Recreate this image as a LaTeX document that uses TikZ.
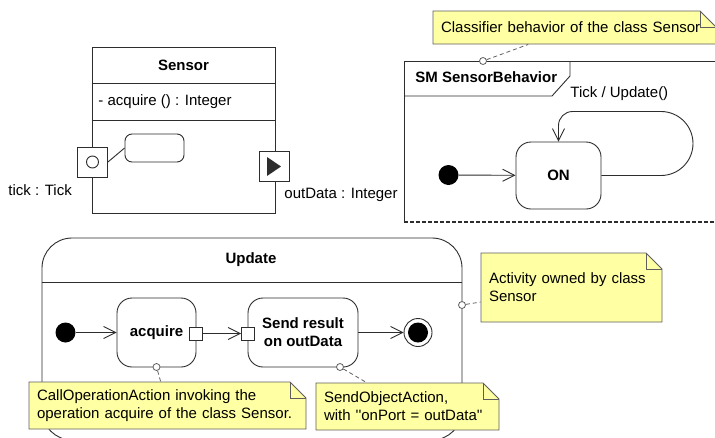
\documentclass[tikz,border=0pt]{standalone}
\usepackage{fontspec}
\setmainfont{Liberation Sans}
\newfontfamily\rawsans{Liberation Sans}
\usetikzlibrary{arrows.meta}
\definecolor{notefill}{RGB}{255,255,163}
\definecolor{ln}{RGB}{45,45,45}
\definecolor{noteln}{RGB}{95,95,95}
\newcommand\umlnote[6]{%
  \pgfmathsetmacro\umlw{#4-#2}%
  \pgfmathsetmacro\umlh{#5-#3}%
  \pgfmathsetmacro\umltw{#4-#2-16}%
  \draw[notepoly] (#2,#3) -- (#4-16,#3) -- (#4,#3+16) -- (#4,#5) -- (#2,#5) -- cycle;
  \draw[notepoly,fill=none] (#4-16,#3) -- (#4-16,#3+16) -- (#4,#3+16);
  \node[notetext, text width=\umltw pt, minimum width=\umlw pt, minimum height=\umlh pt] (#1) at ({(#2+#4)/2},{(#3+#5)/2}) {#6};
}
\begin{document}
\begin{tikzpicture}[x=1pt,y=-1pt, line width=0.9pt,
  every node/.style={font=\fontsize{15}{18}\selectfont, text=black},
  boldtxt/.style={font=\fontsize{15}{18}\selectfont\bfseries},
  box/.style={draw=ln, fill=white, inner sep=0, line width=0.9pt},
  pinbox/.style={box, minimum size=13pt},
  txt/.style={inner sep=0, anchor=base west},
  notepoly/.style={draw=noteln, fill=notefill, line width=0.8pt},
  notetext/.style={inner xsep=8pt, inner ysep=0, align=left},
  noteline/.style={draw=noteln, dash pattern=on 4pt off 3pt, line width=0.8pt},
  anchorc/.style={circle, draw=noteln, fill=white, minimum size=7pt, inner sep=0, line width=0.8pt},
  flow/.style={draw=ln, -{Straight Barb[length=12pt,width=12pt]}},
  initnode/.style={circle, fill=black, minimum size=20pt, inner sep=0}]
\useasboundingbox (0,0) rectangle (715,437);
\fill[white] (0,0) rectangle (715,437);
\clip (0,0) rectangle (715,437);

% ---------- Sensor class ----------
\node[box, minimum width=183pt, minimum height=166pt] (sensor) at (183.5,130) {};
\draw[ln] (sensor.west |- 0,83) -- (sensor.east |- 0,83);
\draw[ln] (sensor.west |- 0,120) -- (sensor.east |- 0,120);
\node[boldtxt, inner sep=0, anchor=base] (sensorname) at (183.5,70) {Sensor};
\node[txt] (op) at (98,105) {- acquire () : Integer};
\node[box, rounded corners=7pt, minimum width=59pt, minimum height=28pt] (smicon) at (154.5,148) {};
\node[box, minimum size=30pt] (tick) at (92.5,162) {};
\node[circle, draw=ln, minimum size=12pt, inner sep=0] (tickc) at (tick.center) {};
\draw[ln] (tick.east) -- (smicon.west);
\node[box, minimum size=30pt] (outport) at (274,166.5) {};
\fill[ln] (267,157) -- (281,166.5) -- (267,176) -- cycle;
\node[txt] (ticklbl) at (8,195) {tick : Tick};
\node[txt] (outlbl) at (284,198) {outData : Integer};

% ---------- State machine ----------
\draw[ln] (720,61) -- (404,61) -- (404,222);
\draw[ln, line width=1.6pt, dash pattern=on 4pt off 2pt] (404,222) -- (720,222);
\draw[ln] (404,96) -- (552,96) -- (570,76) -- (570,61);
\node[txt, boldtxt] (smname) at (415,82) {SM SensorBehavior};
\node[initnode] (smi) at (448.5,175) {};
\node[box, boldtxt, rounded corners=15pt, minimum width=85pt, minimum height=67pt] (on) at (558.5,175.5) {ON};
\draw[flow] (smi) -- (on);
\draw[flow] (on.east) -- (661,175.5) arc[start angle=90, end angle=-90, radius=32]
  -- (572.5,111.5) arc[start angle=270, end angle=180, radius=14] -- (on.north);
\node[txt] (tickupd) at (570,97) {Tick / Update()};

\umlnote{n1}{433}{11}{716}{44}{Classifier behavior of the class Sensor}
\node[anchorc] (a1) at (483,61) {};
\draw[noteline] (a1) -- (n1);

% ---------- Activity ----------
\node[draw=ln, rounded corners=30pt, minimum width=420pt, minimum height=202pt, inner sep=0] (update) at (252,339) {};
\draw[ln] (update.west |- 0,282) -- (update.east |- 0,282);
\node[boldtxt, inner sep=0, anchor=base] (updname) at (251,263) {Update};
\node[initnode] (ai) at (65.5,332.5) {};
\node[box, boldtxt, rounded corners=15pt, minimum width=79pt, minimum height=69pt] (acq) at (156.5,332.5) {acquire};
\node[pinbox] (opin) at (196,333.5) {};
\node[box, boldtxt, rounded corners=15pt, minimum width=110pt, minimum height=69pt, align=center] (send) at (303,332.5) {Send result\\on outData};
\node[pinbox] (ipin) at (248,333.5) {};
\node[circle, draw=ln, fill=white, minimum size=28pt, inner sep=0] (fin) at (418,332.5) {};
\node[circle, fill=black, minimum size=20pt, inner sep=0] (finin) at (fin.center) {};
\draw[flow] (ai) -- (acq);
\draw[flow] (opin) -- (ipin);
\draw[flow] (send) -- (fin);

\umlnote{n2}{29}{382}{306}{429}{CallOperationAction invoking the\\operation acquire of the class Sensor.}
\node[anchorc] (a2) at (156.5,367) {};
\draw[noteline] (a2) -- (n2);

\umlnote{n3}{316}{383}{499}{430}{SendObjectAction,\\with {\rawsans ''}onPort = outData{\rawsans ''}}
\node[anchorc] (a3) at (340,367) {};
\draw[noteline] (a3) -- (n3);

\umlnote{n4}{481}{253}{662}{322}{Activity owned by class\\Sensor}
\node[anchorc] (a4) at (462,305) {};
\draw[noteline] (a4) -- (n4);
\end{tikzpicture}
\end{document}
